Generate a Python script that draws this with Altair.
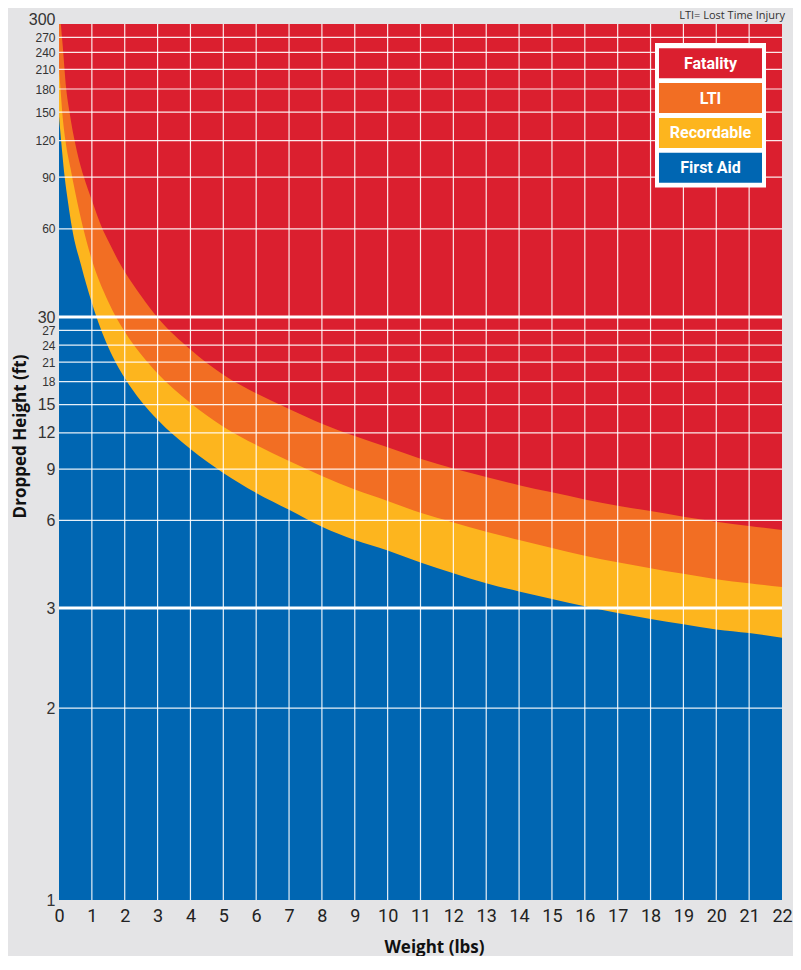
import altair as alt
import pandas as pd

RED = "#DB1F2F"
ORANGE = "#F26E23"
YELLOW = "#FDB51E"
BLUE = "#0066B2"
BG = "#E4E4E6"

# ---- values ----
first_aid_w = [0, 0.05, 0.1, 0.17, 0.27, 0.4, 0.67, 1, 1.5, 2, 2.5, 3,
               4, 5, 6, 7, 8, 9, 10, 11, 12, 13, 14, 15, 16, 17, 18, 19, 20, 21, 22]
first_aid_h = [145, 124.9, 108.5, 90.6, 74.5, 60, 45.1, 33.5, 23.6, 18.5, 15.4, 13.3,
               10.55, 8.73, 7.46, 6.53, 5.71, 5.14, 4.73, 4.30, 3.95, 3.65, 3.42, 3.22,
               3.04, 2.94, 2.87, 2.81, 2.75, 2.71, 2.66]

recordable_w = [0, 0.05, 0.1, 0.2, 0.35, 0.5, 0.72, 1, 1.5, 2, 2.5, 3,
                4, 5, 6, 7, 8, 9, 10, 11, 12, 13, 14, 15, 16, 17, 18, 19, 20, 21, 22]
recordable_h = [211, 177.6, 149.5, 119.2, 96.5, 79.3, 61.3, 47.0, 33.8, 26.7, 22.3, 19.2,
                15.2, 12.6, 10.9, 9.60, 8.53, 7.66, 7.00, 6.37, 5.90, 5.49, 5.14, 4.82,
                4.54, 4.31, 4.11, 3.93, 3.77, 3.65, 3.54]

lti_w = [0, 0.05, 0.09, 0.22, 0.32, 0.5, 0.75, 1, 1.32, 1.5, 1.87, 2, 2.5, 3,
         4, 5, 6, 7, 8, 9, 10, 11, 12, 13, 14, 15, 16, 17, 18, 19, 20, 21, 22]
lti_h = [300, 300, 271, 180, 150, 116.4, 90.6, 75.1, 60, 54.5, 45.3, 42.8, 35.4, 29.9,
         23.2, 19.0, 16.4, 14.5, 12.9, 11.7, 10.7, 9.77, 9.04, 8.46, 7.93, 7.49,
         7.08, 6.74, 6.46, 6.18, 5.94, 5.74, 5.56]

y_ticks = [1, 2, 3, 6, 9, 12, 15, 18, 21, 24, 27, 30, 60, 90, 120, 150, 180,
           210, 240, 270, 300]
x_ticks = list(range(0, 23))
major_lines = [3, 30]
legend_labels = ["Fatality", "LTI", "Recordable", "First Aid"]
legend_colors = [RED, ORANGE, YELLOW, BLUE]
note_text = "LTI= Lost Time Injury"

W, H = 723, 876

yscale = alt.Scale(type="log", domain=[1, 2, 3, 30, 300],
                   range=[876, 684.2, 584.0, 293.0, 0], nice=False, clamp=True)
xscale = alt.Scale(domain=[0, 22], nice=False, zero=False, clamp=True)

yaxis = alt.Axis(
    values=y_ticks, title="Dropped Height (ft)", grid=False, ticks=False, domain=False,
    labelPadding=4, labelFont="Liberation Sans", labelColor="#333333",
    labelFontSize={"condition": {"test": "indexof([1,2,3,6,9,12,15,30,300], datum.value) >= 0",
                                 "value": 16}, "value": 12},
    labelBaseline={"condition": {"test": "datum.value == 300", "value": "alphabetic"},
                   "value": "middle"},
    labelOverlap=False, labelFlush=False, format="d",
    titleFont="Open Sans", titleFontSize=17, titleFontWeight="bold", titleColor="#111111",
    titleX=-39, titleY=412, titleBaseline="middle", titleAngle=-90,
)
xaxis = alt.Axis(
    values=x_ticks, title="Weight (lbs)", grid=False, ticks=False, domain=False,
    labelPadding=7, labelFont="Roboto", labelFontSize=18,
    labelColor="#222222", labelFlush=False, labelOverlap=False, format="d",
    titleFont="Open Sans", titleFontSize=17, titleFontWeight="bold", titleColor="#111111",
    titleX=375, titleY=47, titleBaseline="middle",
)

xenc = alt.X("w:Q", scale=xscale, axis=xaxis)
yenc = alt.Y("h:Q", scale=yscale, axis=yaxis)


def band(ws, hs, color):
    df = pd.DataFrame({"w": ws, "h": hs})
    return alt.Chart(df).mark_area(color=color, interpolate="monotone", clip=True).encode(
        x=xenc, y=yenc, y2=alt.datum(1)
    )


orange = band(lti_w, lti_h, ORANGE)
yellow = band(recordable_w, recordable_h, YELLOW)
blue = band(first_aid_w, first_aid_h, BLUE)

vgrid = alt.Chart(pd.DataFrame({"w": x_ticks[1:-1]})).mark_rule(
    color="white", strokeWidth=1.2, opacity=0.9).encode(x=xenc)
hgrid = alt.Chart(pd.DataFrame({"h": y_ticks[1:-1]})).mark_rule(
    color="white", strokeWidth=1.2, opacity=0.9).encode(y=yenc)
thick = alt.Chart(pd.DataFrame({"h": major_lines})).mark_rule(
    color="white", strokeWidth=2.8).encode(y=yenc)

layers = [orange, yellow, blue, hgrid, vgrid, thick]

# legend box (layout)
BX0, BX1 = 596, 707
layers.append(
    alt.Chart(pd.DataFrame({"t": ["box"]})).mark_rect(color="white").encode(
        x=alt.value(BX0), x2=alt.value(BX1), y=alt.value(19), y2=alt.value(163.5))
)
for i, (lab, col) in enumerate(zip(legend_labels, legend_colors)):
    top = 24.3 + i * 34.8
    d = pd.DataFrame({"label": [lab]})
    layers.append(
        alt.Chart(d).mark_rect(color=col).encode(
            x=alt.value(BX0 + 4), x2=alt.value(BX1 - 4), y=alt.value(top), y2=alt.value(top + 30))
    )
    layers.append(
        alt.Chart(d).mark_text(color="white", font="Roboto", fontWeight="bold",
                               fontSize=16, align="center", baseline="middle").encode(
            x=alt.value((BX0 + BX1) / 2), y=alt.value(top + 15.5), text="label:N")
    )

layers.append(
    alt.Chart(pd.DataFrame({"t": [note_text]})).mark_text(
        align="right", baseline="middle", fontSize=11, color="#333333", font="Open Sans").encode(
        x=alt.value(726), y=alt.value(-8), text="t:N")
)

chart = alt.layer(*layers).properties(
    width=W, height=H,
    autosize=alt.AutoSizeParams(type="none"),
    padding={"left": 51, "top": 16, "right": 11, "bottom": 56},
    background=BG,
).configure_view(fill=RED, strokeWidth=0)

chart.save("out.html", embed_options={"renderer": "svg", "actions": False})
